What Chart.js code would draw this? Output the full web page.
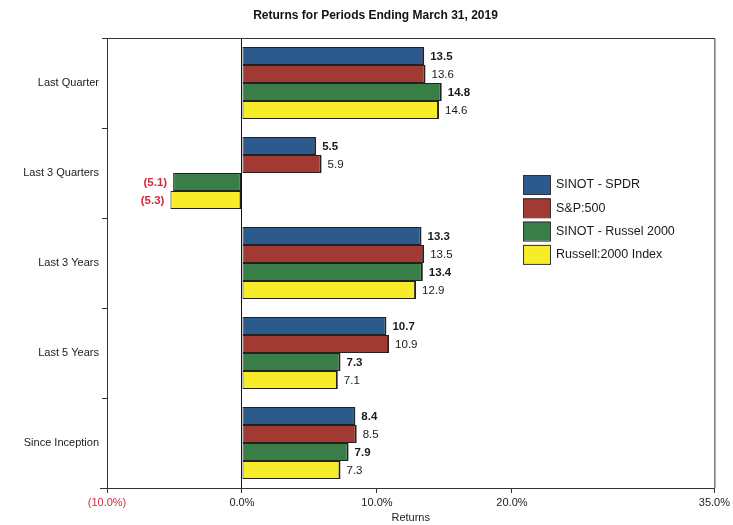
<!DOCTYPE html>
<html>
<head>
<meta charset="utf-8">
<script src="https://cdn.jsdelivr.net/npm/chart.js@4.4.1/dist/chart.umd.min.js"></script>
<style>
    html, body { margin: 0; padding: 0; background: #fff; }
    #wrap { width: 733px; height: 525px; }
</style>
</head>
<body>
<div id="wrap"><canvas id="returnsChart" width="733" height="525"></canvas></div>
<script>
// 数据
const categories = ['Last Quarter', 'Last 3 Quarters', 'Last 3 Years', 'Last 5 Years', 'Since Inception'];
const seriesNames = ['SINOT - SPDR', 'S&P:500', 'SINOT - Russel 2000', 'Russell:2000 Index'];
const spdrReturns = [13.5, 5.5, 13.3, 10.7, 8.4];
const sp500Returns = [13.6, 5.9, 13.5, 10.9, 8.5];
const sinotRusselReturns = [14.8, -5.1, 13.4, 7.3, 7.9];
const russellIndexReturns = [14.6, -5.3, 12.9, 7.1, 7.3];
const xTicks = [-10, 0, 10, 20, 35];

const COLORS = ['#2c5a8c', '#a13a33', '#3a7e47', '#f6ec2a'];
const BOLD_SERIES = [true, false, true, false];
const NEG_RED = '#d42a3a';
const FONT = '"Liberation Sans", Arial, sans-serif';

// 数值格式
function fmtValue(v) {
    return v < 0 ? '(' + Math.abs(v).toFixed(1) + ')' : v.toFixed(1);
}
function fmtPct(v) {
    return v < 0 ? '(' + Math.abs(v).toFixed(1) + '%)' : v.toFixed(1) + '%';
}

// 边框 + 数值标签 + 图例
const extrasPlugin = {
    id: 'extras',
    afterDatasetsDraw(chart) {
        const ctx = chart.ctx;
        ctx.save();
        ctx.textBaseline = 'middle';
        chart.data.datasets.forEach((ds, i) => {
            const meta = chart.getDatasetMeta(i);
            meta.data.forEach((bar, j) => {
                const v = ds.data[j];
                if (v < 0) {
                    ctx.fillStyle = NEG_RED;
                    ctx.font = 'bold 11.5px ' + FONT;
                    ctx.textAlign = 'right';
                    ctx.fillText(fmtValue(v), bar.x - 6, bar.y + 1);
                } else {
                    ctx.fillStyle = '#1a1a1a';
                    ctx.font = (BOLD_SERIES[i] ? 'bold ' : '') + '11.5px ' + FONT;
                    ctx.textAlign = 'left';
                    ctx.fillText(fmtValue(v), bar.x + 6, bar.y + 1);
                }
            });
        });
        ctx.restore();
    },
    afterDraw(chart) {
        const ctx = chart.ctx;
        const a = chart.chartArea;
        ctx.save();
        // 外框
        ctx.strokeStyle = '#333';
        ctx.lineWidth = 1;
        ctx.beginPath();
        ctx.moveTo(a.left, a.top + 0.5);
        ctx.lineTo(a.right + 0.5, a.top + 0.5);
        ctx.lineTo(a.right + 0.5, a.bottom);
        ctx.moveTo(a.left - 7, a.bottom + 0.5);
        ctx.lineTo(a.left, a.bottom + 0.5);
        ctx.stroke();

        // 图例
        const lx = 523, ly = 175, rowH = 23.3;
        ctx.textAlign = 'left';
        ctx.textBaseline = 'middle';
        ctx.font = '12.5px ' + FONT;
        chart.data.datasets.forEach((ds, i) => {
            const y = ly + i * rowH;
            ctx.fillStyle = ds.backgroundColor;
            ctx.fillRect(lx, y, 27, 19);
            ctx.strokeStyle = '#333';
            ctx.strokeRect(lx + 0.5, y + 0.5, 27, 19);
            ctx.fillStyle = '#1a1a1a';
            ctx.fillText(ds.label, lx + 33, y + 10);
        });
        ctx.restore();
    }
};

const seriesData = [spdrReturns, sp500Returns, sinotRusselReturns, russellIndexReturns];

new Chart(document.getElementById('returnsChart'), {
    type: 'bar',
    data: {
        labels: categories,
        datasets: seriesNames.map((name, i) => ({
            label: name,
            data: seriesData[i],
            backgroundColor: COLORS[i],
            borderColor: '#222',
            borderWidth: { top: 1, bottom: 1, left: 1, right: 2 },
            borderSkipped: false,
            categoryPercentage: 0.8,
            barPercentage: 1.0
        }))
    },
    options: {
        indexAxis: 'y',
        responsive: false,
        animation: false,
        devicePixelRatio: 1,
        layout: { padding: { left: 16, right: -2, top: 0, bottom: 0 } },
        plugins: {
            legend: { display: false },
            tooltip: { enabled: false },
            title: {
                display: true,
                text: 'Returns for Periods Ending March 31, 2019',
                color: '#111',
                font: { family: FONT, size: 12, weight: 'bold' },
                padding: { top: 8, bottom: 15.6 }
            }
        },
        scales: {
            x: {
                type: 'linear',
                min: -10,
                max: 35,
                afterBuildTicks: axis => { axis.ticks = xTicks.map(v => ({ value: v })); },
                afterFit: axis => { axis.height = 37; },
                grid: {
                    drawOnChartArea: true,
                    color: c => (c.tick && c.tick.value === 0) ? '#111' : 'rgba(0,0,0,0)',
                    tickColor: '#333',
                    tickLength: 5,
                    lineWidth: 1
                },
                border: { color: '#333', width: 1 },
                ticks: {
                    autoSkip: false,
                    maxRotation: 0,
                    padding: 3,
                    color: c => c.tick.value < 0 ? NEG_RED : '#222',
                    font: { family: FONT, size: 11 },
                    callback: v => fmtPct(v)
                },
                title: {
                    display: true,
                    text: 'Returns',
                    color: '#222',
                    font: { family: FONT, size: 11 },
                    padding: { top: 0, bottom: 0 }
                }
            },
            y: {
                afterFit: axis => { axis.width = 91; },
                grid: {
                    offset: true,
                    drawOnChartArea: false,
                    color: '#333',
                    tickLength: 5
                },
                border: { color: '#333', width: 1 },
                ticks: {
                    padding: 3,
                    color: '#222',
                    font: { family: FONT, size: 11 }
                }
            }
        }
    },
    plugins: [extrasPlugin]
});
</script>
</body>
</html>
